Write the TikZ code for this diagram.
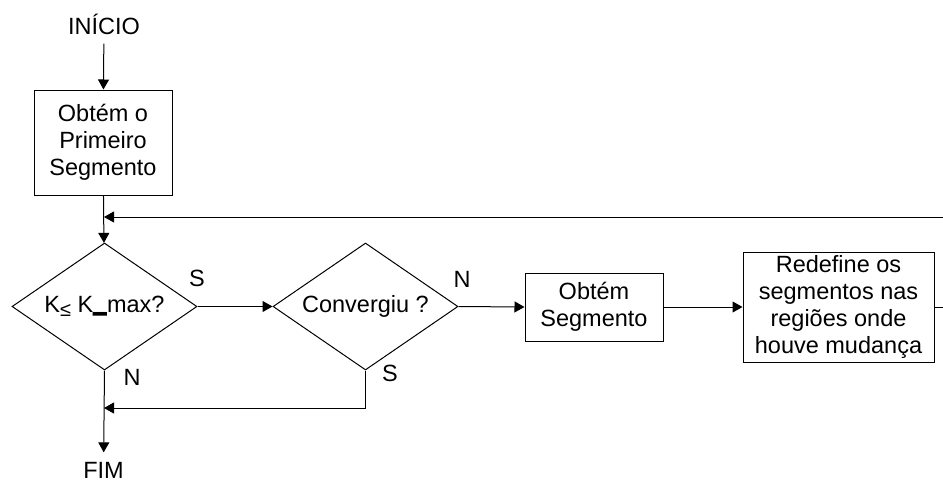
\documentclass[tikz,border=0pt]{standalone}
\usepackage{fontspec}
\setmainfont{Liberation Sans}
\usetikzlibrary{arrows.meta,shapes.geometric}
\begin{document}
\begin{tikzpicture}[x=1pt,y=-1pt,
  font=\fontsize{23.5}{27}\selectfont,
  every path/.style={line width=1pt},
  flow/.style={-{Triangle[length=10pt,width=11pt]}},
  procbox/.style={draw, rectangle, inner sep=0pt, align=center},
  decision/.style={draw, diamond, aspect=1.457, minimum width=185pt, minimum height=127pt, inner sep=0pt},
  tag/.style={inner sep=0pt}
]
\useasboundingbox (0,0) rectangle (943,483);

% terminals
\node[anchor=base, inner sep=0pt, inner ysep=8.5pt] (start) at (104,34.5) {INÍCIO};
\node[anchor=base, inner sep=0pt, inner ysep=9pt] (fim) at (103.5,478) {FIM};

% process boxes
\node[procbox, minimum width=138pt, minimum height=105pt] (first) at (103,142.5) {Obtém o\\Primeiro\\Segmento};
\node[procbox, minimum width=138pt, minimum height=68pt] (seg) at (594,307) {Obtém\\Segmento};
\node[procbox, minimum width=191pt, minimum height=110pt] (redef) at (838.5,307) {Redefine os\\segmentos nas\\regiões onde\\houve mudança};

% decisions
\node[decision] (kmax) at (104.5,306.5)
  {K{\fontsize{20}{20}\selectfont\raisebox{-4pt}{≤}}\ K\raisebox{8.5pt}{\scalebox{1.05}[2.5]{\_}}max?};
\node[decision] (conv) at (365.5,306.5) {Convergiu ?};

% branch labels
\node[tag] (s1) at (197,278) {S};
\node[tag] (n1) at (132,377) {N};
\node[tag] (n2) at (462,279) {N};
\node[tag] (s2) at (390,373) {S};

% junction points
\coordinate (loopin) at (104,217);
\coordinate (backin) at (104,408);
\coordinate (edgeA) at (943,217);
\coordinate (edgeB) at (943,307);

% connectors
\draw[flow] (start) -- (first);
\draw[flow] (first) -- (kmax);
\draw[flow] (edgeA) -- (loopin);
\draw[flow] (kmax.east) -- (conv.west);
\draw[flow] (conv.east) -- (seg.west);
\draw[flow] (seg.east) -- (redef.west);
\draw (redef.east) -- (edgeB);
\draw[flow] (kmax.south) -- (fim);
\draw[flow] (conv.south) |- (backin);
\end{tikzpicture}
\end{document}
